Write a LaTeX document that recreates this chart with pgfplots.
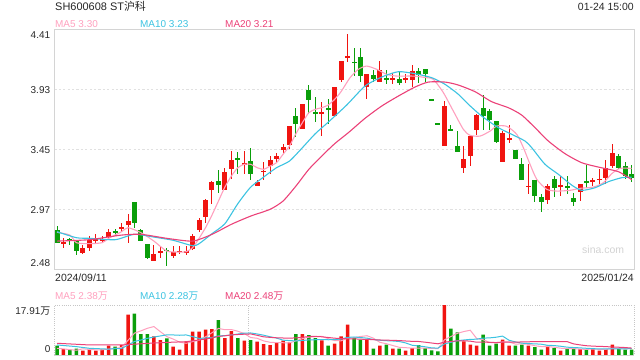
\documentclass[border=0pt]{standalone}
\usepackage{fontspec}
\setmainfont{Liberation Sans}
\newfontfamily\cjk{Noto Sans CJK SC}
\usepackage{pgfplots}
\usepackage{pgfplotstable}
\pgfplotsset{compat=1.18}
\definecolor{upred}{RGB}{240,20,16}
\definecolor{dngreen}{RGB}{10,158,10}
\definecolor{maf}{RGB}{255,160,190}
\definecolor{mab}{RGB}{60,195,225}
\definecolor{mat}{RGB}{235,65,120}
\definecolor{gridc}{RGB}{225,225,225}
\definecolor{framec}{RGB}{212,212,212}
\definecolor{txt}{RGB}{40,40,40}

\pgfplotstableread{
i o h l c v
1 2.704 2.741 2.661 2.708 2.14
4 2.626 2.687 2.613 2.666 1.54
5 2.666 2.759 2.639 2.730 2.02
6 2.724 2.773 2.698 2.729 1.54
7 2.728 2.762 2.711 2.732 2.02
8 2.754 2.815 2.738 2.794 3.33
10 2.824 2.863 2.794 2.828 3.57
11 2.845 2.933 2.706 2.882 14.44
15 2.557 2.690 2.557 2.618 6.68
16 2.629 2.682 2.586 2.633 5.36
18 2.597 2.682 2.586 2.629 2.98
19 2.635 2.682 2.613 2.639 1.90
20 2.630 2.677 2.607 2.634 4.77
21 2.653 2.773 2.645 2.762 8.35
22 2.805 2.906 2.794 2.890 8.35
23 2.911 3.055 2.866 3.050 9.07
24 3.125 3.199 3.013 3.194 9.31
26 3.125 3.301 3.125 3.274 6.08
27 3.295 3.439 3.213 3.370 8.59
29 3.333 3.439 3.253 3.337 5.13
31 3.157 3.205 3.157 3.189 4.77
32 3.275 3.349 3.205 3.279 3.93
33 3.317 3.397 3.253 3.365 3.57
34 3.373 3.423 3.343 3.397 4.53
35 3.445 3.498 3.418 3.471 5.13
36 3.487 3.637 3.458 3.637 4.53
38 3.613 3.818 3.613 3.818 7.51
41 3.733 3.829 3.562 3.754 5.25
43 3.722 3.954 3.722 3.954 4.05
44 4.010 4.159 3.994 4.159 6.68
45 4.189 4.373 4.149 4.193 10.85
48 3.951 4.053 3.853 4.053 5.48
50 3.989 4.159 3.989 4.090 3.33
52 4.005 4.063 3.978 4.026 2.26
54 4.013 4.053 3.983 4.017 1.54
55 4.010 4.127 3.951 4.079 2.50
60 3.482 3.839 3.482 3.797 17.91
63 3.301 3.482 3.261 3.375 4.89
64 3.397 3.557 3.317 3.557 3.69
65 3.605 3.738 3.567 3.727 3.33
69 3.354 3.599 3.354 3.583 5.48
70 3.533 3.647 3.503 3.537 3.33
73 3.155 3.333 3.093 3.159 3.33
76 3.045 3.173 3.018 3.162 3.33
78 3.157 3.242 3.082 3.161 1.54
81 3.114 3.173 3.039 3.173 2.14
83 3.200 3.226 3.162 3.204 2.14
84 3.210 3.295 3.173 3.214 1.54
85 3.221 3.365 3.178 3.306 2.14
86 3.317 3.493 3.306 3.423 3.69
}\uptab

\pgfplotstableread{
i o h l c v
0 2.810 2.842 2.701 2.701 3.33
2 2.732 2.746 2.687 2.728 1.90
3 2.717 2.717 2.605 2.637 2.26
9 2.796 2.815 2.762 2.792 2.98
12 3.034 3.034 2.826 2.861 14.80
13 2.810 2.818 2.717 2.717 7.51
14 2.698 2.698 2.575 2.581 7.51
17 2.647 2.666 2.517 2.643 5.96
25 3.202 3.285 3.103 3.165 12.53
28 3.380 3.434 3.253 3.376 6.08
30 3.359 3.461 3.205 3.253 5.36
37 3.722 3.786 3.551 3.653 7.51
39 3.925 3.967 3.733 3.845 7.15
40 3.745 3.871 3.669 3.741 6.08
42 3.780 3.855 3.653 3.776 3.33
46 4.151 4.261 4.037 4.147 6.08
47 4.194 4.261 3.989 4.037 5.48
49 4.050 4.085 3.989 4.015 2.26
51 4.017 4.090 3.978 4.013 3.69
53 4.015 4.079 3.967 3.983 2.26
56 4.079 4.101 3.983 4.047 3.57
57 4.095 4.095 3.989 4.053 2.50
58 3.852 3.852 3.848 3.848 1.66
59 3.657 3.657 3.653 3.653 1.31
61 3.612 3.647 3.608 3.608 9.42
62 3.482 3.599 3.434 3.434 8.11
66 3.781 3.887 3.610 3.722 7.28
67 3.759 3.775 3.605 3.685 3.33
68 3.679 3.679 3.503 3.509 4.05
71 3.450 3.450 3.373 3.373 3.33
72 3.333 3.381 3.205 3.205 3.69
74 3.210 3.210 3.029 3.077 2.86
75 3.071 3.093 2.949 3.029 1.90
77 3.215 3.237 3.071 3.141 2.50
79 3.154 3.237 3.093 3.150 2.14
80 3.066 3.104 2.997 3.029 2.14
82 3.193 3.327 3.146 3.189 2.14
87 3.397 3.413 3.295 3.306 2.14
88 3.322 3.354 3.215 3.237 1.90
89 3.253 3.327 3.194 3.221 1.90
}\dntab

\pgfplotstableread{
x y
0 2.789
2 2.767
3 2.706
5 2.698
7 2.706
8 2.741
10 2.794
11 2.826
13 2.786
15 2.719
17 2.639
19 2.631
20 2.634
21 2.666
22 2.741
23 2.826
24 2.927
25 3.039
26 3.151
27 3.239
28 3.306
29 3.333
30 3.333
31 3.306
32 3.293
33 3.319
34 3.346
35 3.413
36 3.479
37 3.578
38 3.666
39 3.746
40 3.773
41 3.786
42 3.807
43 3.853
44 3.915
45.38 4.026
46.67 4.093
47.96 4.119
49.51 4.093
51.06 4.053
52.61 4.039
55.19 4.039
57.26 4.026
58.29 4.013
59.84 3.906
61.38 3.759
62.93 3.613
63.97 3.565
65.52 3.559
67.07 3.599
68.10 3.639
69.65 3.637
71.20 3.573
72.23 3.466
73.26 3.333
74.30 3.213
75.84 3.133
77.39 3.119
79.46 3.125
81.01 3.141
83.07 3.151
84.62 3.186
85.91 3.258
87.20 3.301
89.0 3.300
}\pmafive

\pgfplotstableread{
x y
0 2.794
3 2.746
5 2.741
9 2.730
12 2.773
15 2.751
18 2.725
21 2.682
22 2.698
24 2.778
26 2.858
28 3.018
30 3.151
32 3.231
34 3.306
36 3.359
38 3.466
40 3.578
42 3.670
44.86 3.807
47.70 3.959
50.28 4.031
52.86 4.074
55.44 4.058
58.03 4.026
60.09 3.973
62.16 3.893
63.71 3.813
65.77 3.719
68.36 3.626
70.42 3.573
72.49 3.519
73.52 3.466
75.58 3.333
77.65 3.253
79.71 3.167
81.26 3.125
83.33 3.146
85.39 3.194
87.46 3.226
89.0 3.230
}\pmaten

\pgfplotstableread{
x y
0 2.719
5 2.730
10 2.767
13 2.773
17 2.741
21 2.719
24 2.773
27 2.853
30 2.919
33 2.973
35 3.039
37 3.159
39 3.293
41 3.399
43 3.498
45.12 3.586
47.70 3.701
50.28 3.799
52.86 3.879
55.44 3.951
57.51 3.991
60.09 3.991
62.16 3.967
64.74 3.914
67.32 3.834
69.90 3.786
71.97 3.727
74.03 3.626
76.10 3.519
78.68 3.418
81.26 3.346
83.84 3.311
86.94 3.274
89.0 3.210
}\pmatwenty

\pgfplotstableread{
x y
0 2.4
1 2.2
2 1.9
3 1.7
4 2.23
5 1.97
6 1.85
7 1.88
8 2.09
9 2.38
10 2.69
11 5.27
12 7.82
13 8.66
14 9.57
15 10.19
16 8.37
17 6.60
18 5.70
19 4.58
20 4.19
21 4.79
22 5.27
23 6.49
24 7.97
25 9.52
26 9.07
27 9.12
28 8.52
29 7.68
30 6.25
31 5.99
32 5.05
33 4.55
34 4.43
35 4.39
36 4.34
37 5.05
38 5.84
39 6.37
40 6.56
41 6.70
42 5.86
43 5.17
44 5.08
45 6.03
46 6.20
47 6.63
48 6.91
49 6.03
50 4.53
51 4.05
52 3.40
53 2.76
54 2.62
55 2.45
56 2.43
57 2.47
58 2.35
59 2.31
60 5.46
61 6.63
62 7.75
63 8.40
64 8.87
65 5.89
66 5.46
67 4.50
68 4.34
69 4.69
70 4.69
71 3.90
72 3.98
73 3.83
74 3.31
75 3.02
76 3.02
77 2.78
78 2.43
79 2.28
80 2.33
81 2.09
82 2.02
83 2.14
84 2.02
85 2.02
86 2.33
87 2.33
88 2.28
89 2.38
}\vmafive

\pgfplotstableread{
x y
0 3.6
3 3.0
5 2.4
8 2.1
9 2.31
10 2.33
11 3.56
12 4.85
13 5.38
14 5.97
15 6.44
16 6.82
17 7.21
18 7.18
19 7.07
20 7.19
21 6.58
22 5.94
23 6.09
24 6.27
25 6.86
26 6.93
27 7.19
28 7.50
29 7.83
30 7.89
31 7.53
32 7.09
33 6.54
34 6.06
35 5.32
36 5.16
37 5.05
38 5.20
39 5.40
40 5.47
41 5.52
42 5.46
43 5.51
44 5.72
45 6.29
46 6.45
47 6.25
48 6.04
49 5.55
50 5.28
51 5.12
52 5.02
53 4.84
54 4.32
55 3.49
56 3.24
57 2.94
58 2.56
59 2.46
60 3.96
61 4.53
62 5.11
63 5.38
64 5.59
65 5.67
66 6.05
67 6.13
68 6.37
69 6.78
70 5.29
71 4.68
72 4.24
73 4.08
74 4.00
75 3.86
76 3.46
77 3.38
78 3.13
79 2.80
80 2.68
81 2.56
82 2.40
83 2.28
84 2.15
85 2.18
86 2.21
87 2.18
88 2.21
89 2.28
}\vmaten

\pgfplotstableread{
x y
0 4.2
5 3.6
10 3.6
15 4.3
18 4.6
19 4.69
20 4.76
21 5.07
22 5.39
23 5.73
24 6.12
25 6.65
26 6.88
27 7.20
28 7.34
29 7.45
30 7.54
31 7.05
32 6.51
33 6.31
34 6.17
35 6.09
36 6.05
37 6.12
38 6.35
39 6.61
40 6.68
41 6.52
42 6.27
43 6.02
44 5.89
45 5.81
46 5.81
47 5.65
48 5.62
49 5.48
50 5.38
51 5.32
52 5.24
53 5.17
54 5.02
55 4.89
56 4.84
57 4.59
58 4.30
59 4.01
60 4.62
61 4.83
62 5.06
63 5.11
64 4.96
65 4.58
66 4.64
67 4.53
68 4.46
69 4.62
70 4.62
71 4.61
72 4.68
73 4.73
74 4.80
75 4.77
76 4.75
77 4.75
78 4.75
79 4.79
80 3.98
81 3.62
82 3.32
83 3.18
84 3.08
85 3.02
86 2.84
87 2.78
88 2.67
89 2.48
}\vmatwenty

\pgfplotsset{
  candlewick/.style={forget plot, draw=none, mark=none,
    error bars/.cd, y dir=both, y explicit, error mark=none,
    error bar style={draw=#1, line width=1bp}},
  candlebody/.style={forget plot, draw=none, mark=none,
    error bars/.cd, y dir=both, y explicit, error mark=none,
    error bar style={draw=#1, line width=5bp}},
}

\begin{document}
\begin{tikzpicture}
\useasboundingbox (0,0) rectangle (640bp,360bp);

% ---------------- price panel ----------------
\begin{axis}[
  at={(54.3bp,90.3bp)}, anchor=south west,
  scale only axis, width=579.7bp, height=240bp,
  xmin=-0.42, xmax=89.36, ymin=2.49, ymax=4.41,
  axis line style={draw=framec, line width=0.9bp},
  xtick=\empty,
  ytick={2.97,3.45,3.93}, yticklabels={2.97,3.45,3.93},
  major tick length=0pt,
  ymajorgrids,
  grid style={draw=gridc, line width=1.6bp, dash pattern=on 2.2bp off 2.2bp},
  yticklabel style={font=\fontsize{10}{12}\selectfont, text=txt, anchor=east, inner sep=0pt, xshift=-4bp},
  clip=true,
]
\addplot[candlewick=upred] table[x=i, y expr={(\thisrow{h}+\thisrow{l})/2}, y error expr={(\thisrow{h}-\thisrow{l})/2}] {\uptab};
\addplot[candlebody=upred] table[x=i, y expr={(\thisrow{o}+\thisrow{c})/2}, y error expr={max(abs(\thisrow{c}-\thisrow{o})/2,0.006)}] {\uptab};
\addplot[candlewick=dngreen] table[x=i, y expr={(\thisrow{h}+\thisrow{l})/2}, y error expr={(\thisrow{h}-\thisrow{l})/2}] {\dntab};
\addplot[candlebody=dngreen] table[x=i, y expr={(\thisrow{o}+\thisrow{c})/2}, y error expr={max(abs(\thisrow{c}-\thisrow{o})/2,0.006)}] {\dntab};
\addplot[maf, line width=1.1bp, smooth, tension=0.4, mark=none] table[x=x,y=y] {\pmafive};
\addplot[mab, line width=1.1bp, smooth, tension=0.4, mark=none] table[x=x,y=y] {\pmaten};
\addplot[mat, line width=1.1bp, smooth, tension=0.4, mark=none] table[x=x,y=y] {\pmatwenty};
\end{axis}

% ---------------- volume panel ----------------
\begin{axis}[
  at={(54.3bp,5bp)}, anchor=south west,
  scale only axis, width=579.7bp, height=50bp,
  xmin=-0.42, xmax=89.36, ymin=0, ymax=17.91,
  axis line style={draw=none},
  xtick=\empty, ytick=\empty,
  clip=false,
]
\draw[gray!45, line width=0.8bp, dash pattern=on 1bp off 1.2bp] (rel axis cs:0,0) -- (rel axis cs:0,1) -- (rel axis cs:1,1) -- (rel axis cs:1,0);
\draw[gray!45, line width=0.8bp, dash pattern=on 1bp off 1.2bp] (axis cs:29.6,0) -- (axis cs:29.6,17.91);
\addplot[ybar, bar width=3.5bp, bar shift=0pt, fill=upred, draw=none, forget plot] table[x=i,y=v] {\uptab};
\addplot[ybar, bar width=3.5bp, bar shift=0pt, fill=dngreen, draw=none, forget plot] table[x=i,y=v] {\dntab};
\addplot[maf, line width=1bp, mark=none] table[x=x,y=y] {\vmafive};
\addplot[mab, line width=1bp, mark=none] table[x=x,y=y] {\vmaten};
\addplot[mat, line width=1bp, mark=none] table[x=x,y=y] {\vmatwenty};
\draw[framec, line width=0.9bp] (rel axis cs:0,0) -- (rel axis cs:1,0);
\end{axis}

% ---------------- texts ----------------
\begin{scope}[every node/.style={inner sep=0pt, text=txt}]
\node[anchor=base west, font=\fontsize{11}{13}\selectfont, text=black!85] at (55bp,349bp) {SH600608 ST{\cjk 沪科}};
\node[anchor=base east, font=\fontsize{10.5}{12}\selectfont] at (634bp,349.3bp) {01-24 15:00};
\node[anchor=base west, font=\fontsize{10}{12}\selectfont, text=maf] at (55bp,332.3bp) {MA5 3.30};
\node[anchor=base west, font=\fontsize{10}{12}\selectfont, text=mab] at (140bp,332.3bp) {MA10 3.23};
\node[anchor=base west, font=\fontsize{10}{12}\selectfont, text=mat] at (225bp,332.3bp) {MA20 3.21};
\node[anchor=base east, font=\fontsize{10}{12}\selectfont] at (50.3bp,321.5bp) {4.41};
\node[anchor=base east, font=\fontsize{10}{12}\selectfont] at (50.3bp,93.5bp) {2.48};
\node[anchor=base west, font=\fontsize{10.5}{12}\selectfont] at (55bp,78.5bp) {2024/09/11};
\node[anchor=base east, font=\fontsize{10.5}{12}\selectfont] at (634bp,78.5bp) {2025/01/24};
\node[anchor=base west, font=\fontsize{10}{12}\selectfont, text=maf] at (55bp,60bp) {MA5 2.38{\cjk 万}};
\node[anchor=base west, font=\fontsize{10}{12}\selectfont, text=mab] at (140bp,60bp) {MA10 2.28{\cjk 万}};
\node[anchor=base west, font=\fontsize{10}{12}\selectfont, text=mat] at (225bp,60bp) {MA20 2.48{\cjk 万}};
\node[anchor=base east, font=\fontsize{10}{12}\selectfont] at (50.5bp,45bp) {17.91{\cjk 万}};
\node[anchor=base east, font=\fontsize{10}{12}\selectfont] at (50.5bp,8bp) {0};
\node[anchor=base west, font=\fontsize{10.5}{12}\selectfont, text=gray!35] at (582bp,106bp) {sina.com};
\end{scope}
\end{tikzpicture}
\end{document}
